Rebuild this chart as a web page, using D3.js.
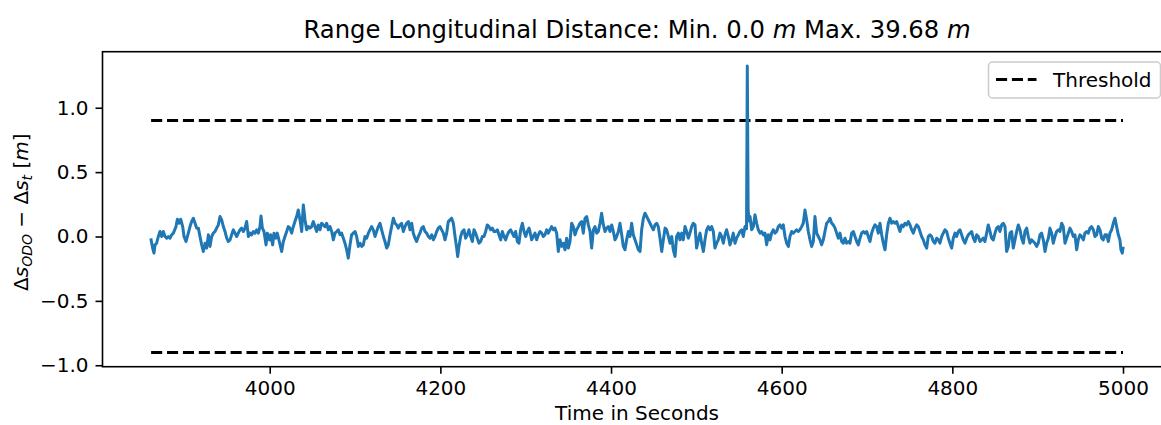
<!DOCTYPE html>
<html>
<head>
<meta charset="utf-8">
<script src="https://cdn.jsdelivr.net/npm/d3@7"></script>
<style>
  html, body { margin: 0; padding: 0; background: #fff; }
  svg { display: block; font-family: "DejaVu Sans", sans-serif; }
</style>
</head>
<body>
<svg id="chart" width="1161" height="425"></svg>
<script>
// ---------------- data ----------------
const timeSeconds = [
  3861.0, 3862.8, 3864.4, 3865.6, 3867.5, 3869.5, 3871.4, 3873.4, 3875.3, 3877.3,
  3879.3, 3881.2, 3883.2, 3885.1, 3887.1, 3890.2, 3891.8, 3894.1, 3895.7, 3898.0,
  3899.6, 3901.9, 3904.6, 3906.6, 3908.5, 3910.5, 3912.5, 3914.4, 3916.4, 3918.3,
  3920.3, 3922.2, 3924.2, 3926.1, 3928.1, 3930.0, 3932.0, 3933.9, 3935.9, 3937.8,
  3939.8, 3941.8, 3943.7, 3945.7, 3947.6, 3949.6, 3951.5, 3953.5, 3955.4, 3957.4,
  3959.3, 3961.3, 3963.2, 3965.2, 3967.1, 3969.1, 3971.0, 3973.0, 3975.0, 3976.9,
  3978.9, 3980.8, 3982.8, 3984.7, 3986.7, 3988.6, 3989.8, 3991.4, 3993.3, 3995.7,
  3997.2, 3999.6, 4001.1, 4003.5, 4005.0, 4007.4, 4008.9, 4011.3, 4014.0, 4016.0,
  4017.9, 4019.9, 4021.8, 4023.8, 4025.7, 4027.7, 4029.6, 4031.6, 4033.5, 4035.5,
  4037.5, 4039.4, 4041.4, 4043.3, 4045.3, 4047.2, 4049.2, 4051.1, 4053.1, 4055.0,
  4057.0, 4058.9, 4060.9, 4062.8, 4064.8, 4066.8, 4068.7, 4070.7, 4072.6, 4074.6, 4076.5, 4078.5, 4080.4,
  4082.4, 4084.3, 4086.3, 4088.2, 4090.2, 4092.1, 4094.1, 4096.0, 4098.0, 4100.0,
  4101.9, 4103.9, 4105.8, 4107.8, 4109.7, 4111.7, 4113.6, 4115.6, 4117.5, 4119.5,
  4121.4, 4123.4, 4125.3, 4127.3, 4129.3, 4131.2, 4133.2, 4135.1, 4137.1, 4139.0,
  4141.0, 4142.9, 4144.9, 4146.8, 4148.8, 4150.7, 4152.7, 4154.6, 4156.6, 4158.6,
  4160.5, 4162.5, 4164.4, 4166.4, 4168.3, 4170.3, 4172.2, 4174.2, 4176.1, 4178.1,
  4180.0, 4182.0, 4183.9, 4185.9, 4187.9, 4189.8, 4191.8, 4193.7, 4195.7, 4197.6,
  4199.6, 4201.5, 4203.5, 4205.4, 4207.4, 4209.3, 4211.3, 4213.2, 4215.2, 4217.2,
  4219.1, 4220.3, 4221.8, 4223.8, 4225.7, 4227.7, 4229.6, 4231.6, 4233.5, 4235.5,
  4237.5, 4239.4, 4241.4, 4243.3, 4245.3, 4247.2, 4249.2, 4251.1, 4253.1, 4255.0,
  4257.0, 4258.9, 4260.9, 4262.8, 4264.8, 4266.8, 4268.7, 4270.7, 4272.6, 4274.6,
  4276.5, 4278.5, 4280.4, 4282.4, 4284.3, 4286.3, 4288.2, 4290.2, 4292.1, 4294.1, 4296.1, 4298.0, 4300.0, 4301.9, 4303.9,
  4305.0, 4307.0, 4308.9, 4310.9, 4312.9, 4314.8, 4316.8, 4318.7, 4320.7, 4322.6,
  4324.6, 4326.5, 4328.5, 4330.4, 4332.4, 4334.3, 4336.3, 4338.2, 4340.2, 4342.2,
  4344.1, 4346.1, 4348.0, 4350.0, 4351.9, 4353.9, 4355.8, 4357.8, 4359.7, 4361.7,
  4363.6, 4365.6, 4367.5, 4369.5, 4371.5, 4373.4, 4375.4, 4377.3, 4379.3, 4381.2,
  4383.2, 4385.1, 4387.1, 4389.0, 4391.0, 4392.9, 4394.9, 4396.8, 4398.8, 4400.8,
  4402.7, 4404.7, 4406.6, 4408.6, 4410.5, 4412.5, 4414.4, 4416.4, 4418.3, 4420.3,
  4422.2, 4424.2, 4426.1, 4428.1, 4430.1, 4432.0, 4434.0, 4435.9, 4437.9, 4439.8,
  4441.8, 4443.7, 4445.7, 4447.6, 4449.6, 4451.5, 4453.5, 4455.4, 4457.4, 4459.4,
  4461.3, 4463.3, 4465.2, 4467.2, 4469.1, 4471.1, 4473.0, 4475.0, 4476.9, 4478.9, 4480.8, 4482.8, 4484.7,
  4486.7, 4488.6, 4490.6, 4492.5, 4494.5, 4496.4, 4498.4, 4500.3, 4502.3, 4504.3,
  4506.2, 4508.2, 4510.1, 4512.1, 4514.0, 4516.0, 4517.9, 4519.9, 4521.8, 4523.8,
  4525.7, 4527.7, 4529.6, 4531.6, 4533.6, 4535.5, 4537.5, 4539.4, 4541.4, 4543.3,
  4545.3, 4547.2, 4549.2, 4551.1, 4553.1, 4555.0, 4557.0,
  4558.8, 4559.7, 4560.7, 4561.9,
  4562.9, 4564.8, 4566.8, 4568.7, 4570.7, 4572.6, 4574.6, 4576.5, 4578.5, 4580.4,
  4582.4, 4584.3, 4586.3, 4588.2, 4590.2, 4592.1, 4594.1, 4596.1, 4598.0, 4600.0,
  4601.9, 4603.9, 4605.8, 4607.8, 4609.7, 4611.7, 4613.6, 4615.6, 4617.5, 4619.5,
  4621.4, 4623.4, 4625.3, 4627.3, 4629.3, 4631.2, 4633.2, 4635.1, 4637.1, 4639.0,
  4641.0, 4642.9, 4644.9, 4646.8, 4648.8, 4650.7, 4652.7, 4654.6, 4656.6, 4658.6,
  4660.5, 4662.5, 4664.4, 4666.4,
  4668.3, 4670.3, 4672.2, 4674.2, 4676.1, 4678.1, 4680.0, 4682.0, 4684.0, 4685.9,
  4687.9, 4689.8, 4691.8, 4693.7, 4695.7, 4697.6, 4699.6, 4701.5, 4703.5, 4705.4,
  4707.4, 4709.3, 4711.3, 4713.2, 4715.2, 4717.2, 4719.1, 4721.1, 4723.0, 4725.0,
  4726.9, 4728.9, 4730.8, 4732.8, 4734.7, 4736.7, 4738.6, 4740.6, 4742.5, 4744.5,
  4746.4, 4748.4, 4750.4, 4752.3, 4754.3, 4756.2, 4758.2, 4760.1, 4762.1, 4764.0,
  4766.0, 4767.9, 4769.9, 4771.8, 4773.8, 4775.7, 4777.7, 4779.6, 4781.6, 4783.6,
  4785.5, 4787.5, 4789.4, 4791.4, 4793.3, 4795.3, 4797.2, 4799.2, 4801.1, 4803.1,
  4805.0, 4807.0, 4808.9, 4810.9, 4812.8, 4814.8, 4816.8, 4818.7, 4820.7, 4822.6,
  4824.6, 4826.5, 4828.5, 4830.4, 4832.4, 4834.3, 4836.3, 4838.2, 4840.2, 4842.1,
  4844.1, 4846.0, 4848.0,
  4850.0, 4851.9, 4853.9, 4855.8, 4857.8, 4859.7, 4861.7, 4863.6, 4865.6, 4867.5,
  4869.5, 4871.4, 4873.4, 4875.4, 4877.3, 4879.3, 4881.2, 4883.2, 4885.1, 4887.1,
  4889.0, 4891.0, 4892.9, 4894.9, 4896.8, 4898.8, 4900.7, 4902.7, 4904.6, 4906.6,
  4908.6, 4910.5, 4912.5, 4914.4, 4916.4, 4918.3, 4920.3, 4922.2, 4924.2, 4926.1,
  4928.1, 4930.0, 4932.0, 4933.9, 4935.9, 4937.8, 4939.8, 4941.8, 4943.7, 4945.7,
  4947.6, 4949.6, 4951.5, 4953.5, 4955.4, 4957.4, 4959.3, 4961.3, 4963.2, 4965.2,
  4967.1, 4969.1, 4971.1, 4973.0, 4975.0, 4976.9, 4978.9, 4980.8, 4982.8, 4984.7,
  4986.7, 4988.6, 4990.6, 4992.5, 4994.5, 4996.4, 4997.6, 4999.2, 5000.0
];
const deltaS = [
  -0.026, -0.090, -0.129, -0.065, -0.052, 0.000, 0.039, 0.000, 0.039, 0.000,
  -0.013, 0.000, -0.013, 0.013, 0.026, 0.077, 0.134, 0.103, 0.134, 0.077,
  0.000, -0.039, 0.026, 0.077, 0.116, 0.142, 0.103, 0.065, 0.065, 0.000,
  -0.065, -0.116, -0.052, -0.090, 0.013, -0.077, 0.000, 0.026, 0.039, 0.065,
  0.090, 0.155, 0.129, 0.077, 0.039, -0.013, -0.039, -0.026, 0.013, 0.052,
  0.026, 0.000, 0.026, 0.052, 0.065, 0.039, 0.065, 0.116, 0.000, 0.026,
  0.013, 0.039, 0.026, 0.052, 0.026, 0.077, 0.160, 0.065, 0.039, -0.065,
  0.026, -0.026, 0.013, -0.065, 0.026, -0.013, 0.026, -0.039, -0.116, -0.039,
  0.000, 0.039, 0.077, 0.065, 0.026, 0.077, 0.116, 0.155, 0.206, 0.129,
  0.039, 0.245, 0.129, 0.052, 0.077, 0.065, 0.077, 0.116, 0.077, 0.039,
  0.090, 0.052, 0.103, 0.090, 0.077, 0.103, 0.052, 0.077, 0.039, -0.026, 0.026, 0.039, 0.052,
  0.013, 0.026, -0.013, -0.052, -0.103, -0.168, -0.065, 0.013, 0.026, 0.039,
  0.000, -0.077, -0.052, -0.077, -0.065, 0.000, -0.013, 0.026, 0.052, 0.077,
  0.052, 0.000, 0.039, 0.077, 0.103, 0.052, 0.000, -0.039, -0.090, -0.065,
  0.013, 0.077, 0.142, 0.103, 0.090, 0.065, 0.090, 0.103, 0.039, 0.077,
  0.103, 0.116, 0.052, 0.103, 0.026, -0.013, -0.039, 0.000, 0.026, 0.065,
  0.077, 0.039, 0.026, 0.000, -0.013, 0.013, -0.026, 0.000, 0.039, 0.065,
  0.077, 0.052, 0.026, -0.026, 0.026, 0.116, 0.129, 0.142, 0.103, 0.000,
  -0.090, -0.155, -0.077, 0.000, 0.039, 0.052, -0.013, 0.013, 0.052, 0.000,
  -0.039, 0.052, 0.026, -0.013, -0.052, -0.039, 0.000, 0.000, 0.039, 0.090,
  0.077, 0.052, 0.065, 0.039, 0.039, 0.052, 0.013, -0.026, 0.039, 0.000,
  -0.026, 0.013, 0.039, 0.052, 0.026, 0.000, 0.039, -0.039, -0.052, 0.052, 0.103, 0.039, 0.000, 0.039, 0.065,
  0.039, -0.026, 0.000, 0.026, -0.026, 0.013, 0.039, 0.026, 0.000, 0.013,
  0.052, 0.026, 0.052, 0.077, 0.052, 0.065, 0.026, -0.116, -0.026, -0.077,
  -0.052, -0.103, -0.013, -0.090, -0.039, 0.103, 0.077, 0.013, 0.052, 0.077,
  0.103, 0.116, 0.026, 0.142, 0.155, 0.090, 0.039, -0.090, 0.052, 0.077,
  0.026, 0.039, 0.103, 0.181, 0.090, 0.039, 0.065, 0.077, 0.039, 0.090,
  0.039, -0.026, 0.000, 0.039, 0.103, 0.013, -0.077, -0.103, -0.026, 0.039,
  0.000, 0.103, 0.013, -0.026, -0.065, -0.103, -0.116, 0.052, 0.142, 0.181,
  0.155, 0.129, 0.103, 0.077, 0.052, 0.090, 0.103, 0.077, -0.013, -0.116,
  -0.026, 0.065, 0.052, 0.000, -0.052, 0.000, -0.103, -0.155, 0.000, 0.026, -0.026, 0.026, -0.026,
  0.077, 0.039, -0.013, 0.026, 0.077, 0.103, 0.090, -0.090, -0.026, 0.026,
  -0.052, -0.116, -0.026, 0.052, 0.077, 0.052, 0.077, 0.039, -0.090, -0.052,
  -0.026, 0.026, 0.000, -0.052, 0.013, 0.052, 0.000, -0.065, -0.026, 0.026,
  -0.052, -0.013, 0.013, 0.039, 0.052, 0.000, 0.077,
  0.060, 1.324, 0.200, 0.120,
  0.155, 0.052, 0.077, 0.168, 0.103, 0.052, 0.026, 0.039, 0.013, 0.026,
  -0.065, 0.013, -0.026, 0.026, 0.052, 0.026, 0.039, 0.077, 0.090, 0.065,
  0.090, 0.000, -0.052, -0.077, 0.000, 0.039, 0.026, 0.039, 0.052, 0.039,
  0.052, 0.077, 0.103, 0.206, 0.129, 0.039, -0.026, -0.077, -0.039, 0.155,
  0.026, 0.000, -0.026, -0.065, -0.026, 0.039, 0.103, 0.116, 0.142, 0.103,
  0.090, 0.065, 0.026, -0.013,
  0.026, -0.039, -0.052, -0.013, -0.052, -0.039, -0.052, 0.026, 0.039, 0.000,
  -0.039, -0.065, -0.013, 0.026, 0.039, 0.026, 0.039, 0.000, -0.039, 0.026,
  0.065, 0.090, 0.077, 0.026, 0.103, 0.013, -0.052, -0.103, 0.013, 0.103,
  0.142, 0.103, 0.116, 0.103, 0.116, 0.077, 0.039, 0.090, 0.077, 0.103,
  0.090, 0.116, 0.090, 0.052, 0.026, 0.065, 0.090, 0.077, 0.039, 0.000,
  -0.026, -0.065, -0.090, 0.000, 0.013, 0.000, -0.039, -0.052, -0.013, -0.026,
  -0.052, 0.000, 0.026, 0.052, 0.039, -0.013, -0.052, -0.090, -0.013, 0.026,
  0.000, 0.039, 0.052, 0.013, -0.026, -0.052, -0.013, 0.013, 0.026, 0.039,
  -0.013, -0.039, 0.013, 0.000, -0.039, -0.026, -0.013, -0.039, 0.026, 0.090,
  0.039, -0.013, -0.026,
  0.026, 0.065, 0.077, 0.039, 0.090, 0.103, 0.077, -0.116, -0.077, 0.026,
  0.039, -0.090, -0.026, 0.039, 0.090, 0.052, -0.013, -0.052, 0.039, 0.065,
  0.000, -0.052, -0.026, -0.039, -0.052, -0.077, -0.052, 0.013, 0.026, -0.026,
  -0.116, -0.052, -0.013, 0.065, 0.026, -0.052, 0.000, 0.039, 0.052, 0.039,
  0.103, 0.077, -0.052, -0.013, 0.026, 0.065, 0.039, 0.000, 0.013, -0.103,
  -0.026, 0.013, 0.000, -0.026, 0.026, 0.039, 0.026, 0.065, 0.077, 0.052,
  0.000, 0.013, 0.077, 0.052, -0.013, -0.026, 0.013, 0.013, -0.039, 0.026,
  0.052, 0.103, 0.142, 0.077, 0.013, -0.026, -0.103, -0.129, -0.090
];
const thresholdUpper = 0.9;
const thresholdLower = -0.9;
const xTickValues = [4000, 4200, 4400, 4600, 4800, 5000];
const yTickValues = [-1.0, -0.5, 0.0, 0.5, 1.0];
const titleParts = ["Range Longitudinal Distance: Min. 0.0 ", "m", " Max. 39.68 ", "m"];
const xLabelText = "Time in Seconds";
const legendLabel = "Threshold";

// --------------- layout ---------------
const W = 1161, H = 425;
const plot = { left: 102.5, right: 1171.6, top: 51.7, bottom: 366.7 };
const S = 2.0;                  // points -> px
const lineW = 1.5 * S;
const tickFont = 20;
const titleFont = 24.3;

const n = Math.min(timeSeconds.length, deltaS.length);
if (timeSeconds.length !== deltaS.length) console.error("length mismatch", timeSeconds.length, deltaS.length);
const series = d3.range(n).map(i => ({ t: timeSeconds[i], v: deltaS[i] }));

const tExt = d3.extent(timeSeconds);
const allY = deltaS.concat([thresholdUpper, thresholdLower]);
const vExt = d3.extent(allY);
const tPad = (tExt[1] - tExt[0]) * 0.05;
const vPad = (vExt[1] - vExt[0]) * 0.05;

const x = d3.scaleLinear().domain([tExt[0] - tPad, tExt[1] + tPad]).range([plot.left, plot.right]);
const y = d3.scaleLinear().domain([vExt[0] - vPad, vExt[1] + vPad]).range([plot.bottom, plot.top]);

const svg = d3.select("#chart");
svg.append("rect").attr("width", W).attr("height", H).attr("fill", "#fff");

// threshold lines
const dash = [3.7 * lineW, 1.6 * lineW].join(",");
[thresholdUpper, thresholdLower].forEach(th => {
  svg.append("path")
    .attr("d", d3.line().x(d => x(d[0])).y(d => y(d[1]))([[tExt[0], th], [tExt[1], th]]))
    .attr("fill", "none").attr("stroke", "#000").attr("stroke-width", lineW)
    .attr("stroke-dasharray", dash);
});

// data line
svg.append("path")
  .datum(series)
  .attr("d", d3.line().x(d => x(d.t)).y(d => y(d.v)))
  .attr("fill", "none").attr("stroke", "#1f77b4").attr("stroke-width", lineW)
  .attr("stroke-linejoin", "round").attr("stroke-linecap", "square");

// axes
const tickLen = 3.5 * S, tickPad = 3.5 * S;
const xAxis = svg.append("g").attr("transform", `translate(0,${plot.bottom})`)
  .call(d3.axisBottom(x).tickValues(xTickValues).tickSize(tickLen).tickPadding(tickPad).tickFormat(d3.format("d")));
const yAxis = svg.append("g").attr("transform", `translate(${plot.left},0)`)
  .call(d3.axisLeft(y).tickValues(yTickValues).tickSize(tickLen).tickPadding(tickPad)
    .tickFormat(d => d3.format(".1f")(d).replace("-", "\u2212")));
[xAxis, yAxis].forEach(g => {
  g.select(".domain").remove();
  g.selectAll(".tick line").attr("stroke", "#000").attr("stroke-width", 0.8 * S);
  g.selectAll(".tick text").attr("fill", "#000").style("font-size", tickFont + "px")
    .style("font-family", "'DejaVu Sans', sans-serif");
});

// frame
svg.append("rect")
  .attr("x", plot.left).attr("y", plot.top)
  .attr("width", plot.right - plot.left).attr("height", plot.bottom - plot.top)
  .attr("fill", "none").attr("stroke", "#000").attr("stroke-width", 0.8 * S);

// title
const title = svg.append("text").attr("x", (plot.left + plot.right) / 2).attr("y", 38)
  .attr("text-anchor", "middle").style("font-size", titleFont + "px").attr("fill", "#000");
titleParts.forEach((p, i) => title.append("tspan").text(p).style("font-style", i % 2 ? "italic" : "normal"));

// x label
svg.append("text").attr("x", (plot.left + plot.right) / 2).attr("y", 419.5)
  .attr("text-anchor", "middle").style("font-size", tickFont + "px").attr("fill", "#000").text(xLabelText);

// y label (mathtext-like)
const yl = svg.append("text")
  .attr("transform", `translate(28,${(plot.top + plot.bottom) / 2 + 3}) rotate(-90)`)
  .attr("text-anchor", "middle").style("font-size", tickFont + "px").attr("fill", "#000");
yl.append("tspan").text("\u0394");
yl.append("tspan").text("s").style("font-style", "italic");
yl.append("tspan").text("ODO").style("font-style", "italic").style("font-size", (tickFont * 0.7) + "px").attr("dy", "0.3em");
yl.append("tspan").text(" \u2212 \u0394").attr("dy", "-0.21em");
yl.append("tspan").text("s").style("font-style", "italic");
yl.append("tspan").text("t").style("font-style", "italic").style("font-size", (tickFont * 0.7) + "px").attr("dy", "0.3em");
yl.append("tspan").text(" [").attr("dy", "-0.21em");
yl.append("tspan").text("m").style("font-style", "italic");
yl.append("tspan").text("]");

// legend
const lg = svg.append("g");
lg.append("rect").attr("x", 988.5).attr("y", 62).attr("width", 172).attr("height", 36).attr("rx", 4)
  .attr("fill", "#fff").attr("fill-opacity", 0.8).attr("stroke", "#cccccc").attr("stroke-width", 1.5);
lg.append("line").attr("x1", 996).attr("x2", 1036.5).attr("y1", 79.5).attr("y2", 79.5)
  .attr("stroke", "#000").attr("stroke-width", lineW).attr("stroke-dasharray", dash);
lg.append("text").attr("x", 1053).attr("y", 86.5).style("font-size", tickFont + "px").attr("fill", "#000").text(legendLabel);
</script>
</body>
</html>
